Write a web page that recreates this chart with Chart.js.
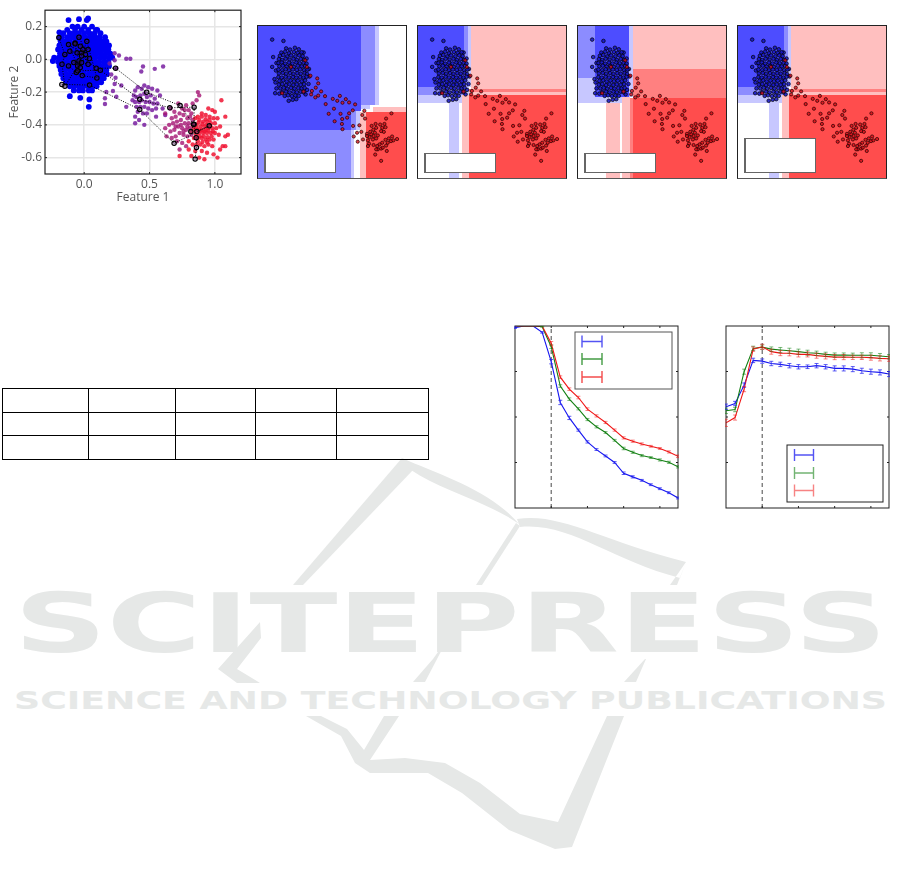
<!DOCTYPE html>
<html>
<head>
<meta charset="UTF-8">
<title>Feature scatter, decision regions and error curves</title>
<script src="https://cdn.jsdelivr.net/npm/chart.js@4/dist/chart.umd.min.js"></script>
<style>
  html, body { margin: 0; padding: 0; background: #fff; }
  #page { position: relative; width: 901px; height: 881px; overflow: hidden; }
  #page canvas { position: absolute; filter: blur(0.35px); }
  #watermark { position: absolute; left: 0; top: 0; }
  .panel { position: absolute; width: 148px; height: 152px; border: 1px solid #222; border-bottom-color: #555; }
  .panel canvas { left: 0; top: 0; filter: blur(0.3px); }
  .tag { position: absolute; background: #fff; border: 1px solid #666; border-left-width: 2px; box-sizing: border-box; }
  #blank { position: absolute; left: 2px; top: 388px; border-collapse: collapse; table-layout: fixed; width: 426px; }
  #blank td { border: 1px solid #000; height: 22.6px; padding: 0; }
</style>
</head>
<body>
<div id="page">
  <svg id="watermark" width="901" height="881">
    <g fill="#e6e8e7">
      <path d="M402,458 L293,585 L303,585 L413,470 Z"/>
      <path d="M402,458 C440,475 490,490 519,524 C490,503 440,490 411,470 Z"/>
      <path d="M517,519 C560,512 600,540 686,562 L670,585 L677,585 L686,562 L680,578 C610,560 570,522 520,527 Z"/>
      <path d="M516,523 L476,585 L482,585 L520,526 Z"/>
      <path d="M260,622 L218,669 L237,683 L260,683 L237,669 L261,638 Z"/>
      <path d="M433,659 L413,682 L425,682 L448,638 Z"/>
      <path d="M645,659 L624,682 L636,682 L646,659 Z"/>
      <path d="M306,716 L341,736 L355,763 L370,773 L428,773 L462,793 L509,830 L555,849 L572,847 L624,716 L607,716 L558,822 L520,814 L480,783 L445,763 L405,758 L370,760 L399,716 L384,716 L364,750 L347,729 L321,716 Z"/>
      <text x="14" y="652" font-family="DejaVu Sans" font-weight="bold" font-size="82" textLength="873" lengthAdjust="spacingAndGlyphs">SCITEPRESS</text>
      <text x="14" y="709" font-family="DejaVu Sans" font-weight="bold" font-size="25" textLength="873" lengthAdjust="spacingAndGlyphs">SCIENCE AND TECHNOLOGY PUBLICATIONS</text>
    </g>
  </svg>

  <canvas id="scatterChart" width="250" height="205" style="left:0;top:0"></canvas>

  <div class="panel" style="left:257px;top:25px"><canvas id="panelOne" width="148" height="152"></canvas><div class="tag" style="left:6px;top:127px;width:72px;height:20px"></div></div>
  <div class="panel" style="left:417px;top:25px"><canvas id="panelTwo" width="148" height="152"></canvas><div class="tag" style="left:6px;top:127px;width:72px;height:20px"></div></div>
  <div class="panel" style="left:577px;top:25px"><canvas id="panelThree" width="148" height="152"></canvas><div class="tag" style="left:6px;top:127px;width:72px;height:20px"></div></div>
  <div class="panel" style="left:737px;top:25px"><canvas id="panelFour" width="148" height="152"></canvas><div class="tag" style="left:6px;top:112px;width:72px;height:35px"></div></div>

  <table id="blank">
    <colgroup><col style="width:86px"><col style="width:87px"><col style="width:80px"><col style="width:81px"><col style="width:92px"></colgroup>
    <tr><td></td><td></td><td></td><td></td><td></td></tr>
    <tr><td></td><td></td><td></td><td></td><td></td></tr>
    <tr><td></td><td></td><td></td><td></td><td></td></tr>
  </table>

  <canvas id="curveLeft" width="165" height="184" style="left:514px;top:325px"></canvas>
  <canvas id="curveRight" width="165" height="184" style="left:725px;top:325px"></canvas>
</div>

<script>
// ---- scatter, first chart ----
var featureOneTicks = [0, 0.5, 1];
var featureTwoTicks = [-0.6, -0.4, -0.2, 0, 0.2];

// blue cloud read row by row
var blueRowY = [0.2, 0.18, 0.16, 0.135, 0.11, 0.085, 0.06, 0.035, 0.01, -0.015, -0.04, -0.065, -0.09, -0.115, -0.14, -0.165, -0.19];
var blueRowX = [
  [-0.09, -0.05, 0, 0.06],
  [-0.13, -0.07, -0.02, 0.03, 0.09],
  [-0.16, -0.11, -0.075, -0.04, 0, 0.04, 0.08, 0.125],
  [-0.17, -0.13, -0.095, -0.06, -0.025, 0.01, 0.05, 0.085, 0.12, 0.16],
  [-0.18, -0.145, -0.11, -0.07, -0.035, 0, 0.035, 0.07, 0.105, 0.14, 0.17],
  [-0.19, -0.155, -0.12, -0.085, -0.05, -0.015, 0.02, 0.055, 0.09, 0.125, 0.16, 0.19],
  [-0.2, -0.165, -0.13, -0.095, -0.06, -0.025, 0.01, 0.045, 0.08, 0.115, 0.15, 0.185],
  [-0.185, -0.15, -0.115, -0.08, -0.045, -0.01, 0.025, 0.06, 0.095, 0.13, 0.165, 0.2],
  [-0.23, -0.195, -0.16, -0.125, -0.09, -0.055, -0.02, 0.015, 0.05, 0.085, 0.12, 0.155, 0.19, 0.215],
  [-0.2, -0.165, -0.13, -0.095, -0.06, -0.025, 0.01, 0.045, 0.08, 0.115, 0.15, 0.185],
  [-0.19, -0.155, -0.12, -0.085, -0.05, -0.015, 0.02, 0.055, 0.09, 0.125, 0.16, 0.19],
  [-0.18, -0.145, -0.11, -0.075, -0.04, -0.005, 0.03, 0.065, 0.1, 0.135, 0.17],
  [-0.175, -0.14, -0.105, -0.07, -0.035, 0, 0.035, 0.07, 0.105, 0.14, 0.175],
  [-0.16, -0.125, -0.09, -0.055, -0.02, 0.015, 0.05, 0.085, 0.12, 0.15],
  [-0.14, -0.105, -0.07, -0.035, 0, 0.035, 0.07, 0.105, 0.13],
  [-0.11, -0.075, -0.04, -0.005, 0.03, 0.065, 0.095],
  [-0.08, -0.04, -0.01, 0.035, 0.06]
];
var blueStrays = [[-0.24, -0.01], [-0.12, 0.24], [-0.04, 0.245], [0.02, 0.24], [0.03, 0.25], [-0.19, 0.165], [0.1, 0.18], [-0.03, -0.235], [-0.11, -0.225], [0.035, -0.29], [0.04, -0.245], [-0.19, 0.13]];

var purplePoints = [[0.233, 0.037], [0.266, 0.023], [0.322, 0.004], [0.353, 0.004], [0.233, -0.006], [0.194, -0.025], [0.246, -0.054], [0.207, -0.093], [0.233, -0.151], [0.284, -0.16], [0.24, -0.112], [0.169, -0.199], [0.159, -0.238], [0.159, -0.273], [0.22, -0.193], [0.322, -0.29], [0.246, -0.228],
  [0.45, -0.044], [0.437, -0.074], [0.54, -0.058], [0.604, -0.044], [0.39, -0.19], [0.41, -0.17], [0.44, -0.18], [0.46, -0.16], [0.49, -0.17], [0.52, -0.18], [0.56, -0.19], [0.58, -0.22], [0.38, -0.22], [0.4, -0.23], [0.43, -0.22], [0.46, -0.21], [0.48, -0.23], [0.51, -0.22], [0.54, -0.24], [0.37, -0.25], [0.39, -0.26], [0.42, -0.26], [0.44, -0.25], [0.47, -0.26], [0.5, -0.26], [0.53, -0.27], [0.56, -0.27], [0.4, -0.29], [0.43, -0.29], [0.46, -0.29], [0.49, -0.3], [0.52, -0.31], [0.55, -0.3], [0.41, -0.32], [0.45, -0.33], [0.48, -0.33], [0.42, -0.37], [0.39, -0.35], [0.46, -0.4], [0.39, -0.39], [0.6, -0.3], [0.62, -0.34], [0.55, -0.35]];
var magentaPoints = [[0.62, -0.33], [0.66, -0.3], [0.69, -0.32], [0.72, -0.27], [0.75, -0.3], [0.78, -0.28], [0.8, -0.31], [0.67, -0.36], [0.7, -0.35], [0.73, -0.33], [0.76, -0.34], [0.79, -0.36], [0.82, -0.33], [0.65, -0.4], [0.68, -0.39], [0.71, -0.38], [0.74, -0.37], [0.77, -0.39], [0.8, -0.39], [0.83, -0.37], [0.62, -0.42], [0.66, -0.44], [0.69, -0.43], [0.72, -0.41], [0.75, -0.42], [0.78, -0.43], [0.81, -0.42], [0.63, -0.47], [0.67, -0.48], [0.7, -0.47], [0.73, -0.45], [0.76, -0.46], [0.79, -0.47], [0.71, -0.5], [0.75, -0.51], [0.78, -0.53], [0.73, -0.55], [0.83, -0.27], [0.86, -0.25], [0.88, -0.22], [0.87, -0.2],
  [0.77, -0.31], [0.81, -0.35], [0.74, -0.4], [0.79, -0.41], [0.76, -0.44], [0.7, -0.41], [0.82, -0.46]];
var redPoints = [[0.95, -0.3], [0.98, -0.31], [1, -0.32], [1.05, -0.25], [1.08, -0.35], [0.9, -0.33], [0.93, -0.34], [0.96, -0.35], [0.99, -0.36], [1.02, -0.36], [0.85, -0.36], [0.88, -0.37], [0.91, -0.38], [0.94, -0.38], [0.97, -0.39], [1, -0.39], [0.83, -0.4], [0.86, -0.4], [0.89, -0.41], [0.92, -0.41], [0.95, -0.42], [0.98, -0.42], [1.01, -0.42], [1.04, -0.41], [0.82, -0.44], [0.85, -0.44], [0.88, -0.45], [0.91, -0.45], [0.94, -0.45], [0.97, -0.45], [1, -0.45], [1.03, -0.46], [1.1, -0.46], [1.08, -0.47], [0.84, -0.48], [0.87, -0.48], [0.9, -0.48], [0.93, -0.49], [0.96, -0.49], [0.99, -0.49], [0.8, -0.5], [0.83, -0.52], [0.86, -0.52], [0.89, -0.52], [0.92, -0.53], [0.95, -0.52], [0.98, -0.53], [1.06, -0.53], [1.08, -0.53], [1.04, -0.55], [0.8, -0.55], [0.85, -0.56], [0.9, -0.56], [0.94, -0.57], [0.99, -0.58], [0.88, -0.6], [0.92, -0.61], [1.02, -0.6], [0.73, -0.59], [0.82, -0.59], [0.87, -0.35], [0.9, -0.35], [0.84, -0.42], [0.87, -0.43], [0.9, -0.43], [0.93, -0.43],
  [0.875, -0.385], [0.905, -0.395], [0.935, -0.4], [0.965, -0.405], [0.86, -0.42], [0.89, -0.435], [0.92, -0.44], [0.95, -0.435], [0.985, -0.44], [0.855, -0.46], [0.885, -0.47], [0.915, -0.47], [0.945, -0.475], [0.975, -0.47], [0.87, -0.5], [0.905, -0.505], [0.94, -0.505], [0.93, -0.365], [0.96, -0.37]];

// black dotted trajectories
var pathA = [[-0.02, 0.02], [0.092, -0.054], [0.24, -0.054], [0.478, -0.201], [0.734, -0.282], [0.836, -0.397], [0.857, -0.478], [0.859, -0.538], [0.849, -0.609]];
var pathB = [[-0.05, -0.07], [0.123, -0.066], [0.425, -0.244], [0.655, -0.296], [0.841, -0.292], [0.841, -0.397], [0.816, -0.441]];
var pathC = [[-0.171, -0.153], [0.041, -0.157], [0.425, -0.306], [0.688, -0.513], [0.957, -0.406], [0.862, -0.441]];
var pathD = [[-0.194, 0.133], [-0.148, 0.03], [-0.17, -0.03], [-0.148, -0.164], [-0.05, -0.04], [0.02, 0.11], [0.097, -0.114], [-0.015, -0.099], [-0.12, 0.09], [-0.02, 0.04], [0.03, 0.06], [-0.07, 0.1], [-0.03, -0.05], [-0.08, -0.02], [0.04, 0.005],
  [-0.04, 0.135], [-0.07, 0.095], [-0.11, 0.05], [-0.055, 0.04], [-0.01, 0.06], [0.01, 0.03], [-0.04, -0.01], [-0.12, -0.04], [-0.06, -0.08], [-0.02, -0.02], [0.03, -0.03], [-0.03, 0.08]];

// ---- decision panels ----
// cell = [x0, x1, y0, y1, level], level from -1 (blue) to 1 (red)
var panelOneCells = [
  [-0.35, 0.612, -0.38, 0.318, -0.7],
  [0.612, 0.707, -0.25, 0.318, -0.7],
  [0.707, 0.85, -0.21, 0.318, -0.45],
  [0.85, 0.901, -0.21, 0.318, -0.22],
  [0.707, 0.8, -0.235, -0.21, -0.22],
  [-0.35, 0.612, -0.7, -0.38, -0.45],
  [0.612, 0.66, -0.38, -0.25, -0.45],
  [0.66, 0.697, -0.38, -0.25, -0.22],
  [0.612, 0.636, -0.7, -0.38, -0.22],
  [0.697, 0.759, -0.7, -0.258, 0.25],
  [0.759, 1.174, -0.7, -0.258, 0.7],
  [0.83, 1.174, -0.258, -0.225, 0.25]
];
var panelTwoCells = [
  [-0.35, 0.119, -0.088, 0.318, -0.7],
  [0.119, 0.17, -0.088, 0.318, -0.45],
  [0.17, 0.194, -0.088, 0.318, -0.22],
  [-0.35, 0.119, -0.143, -0.088, -0.45],
  [-0.35, 0.177, -0.196, -0.143, -0.22],
  [0.119, 0.177, -0.143, -0.088, -0.22],
  [-0.027, 0.075, -0.7, -0.196, -0.22],
  [0.099, 0.177, -0.7, -0.143, 0.25],
  [0.177, 1.174, -0.7, -0.143, 0.7],
  [0.194, 1.174, -0.104, 0.318, 0.25],
  [0.177, 1.174, -0.125, -0.104, 0.5],
  [0.177, 1.174, -0.143, -0.125, 0.25]
];
var panelThreeCells = [
  [-0.35, -0.17, -0.03, 0.318, -0.45],
  [-0.17, 0.18, -0.16, 0.318, -0.7],
  [-0.35, -0.17, -0.196, -0.03, -0.22],
  [-0.17, 0.187, -0.196, -0.16, -0.22],
  [0.18, 0.214, -0.16, 0.318, -0.22],
  [-0.058, 0.085, -0.7, -0.196, 0.25],
  [0.102, 0.187, -0.7, -0.16, 0.25],
  [0.187, 0.214, -0.7, -0.161, 0.5],
  [0.214, 1.174, -0.7, -0.161, 0.7],
  [0.214, 1.174, 0.029, 0.318, 0.25],
  [0.214, 1.174, -0.161, 0.029, 0.5]
];
var panelFourCells = panelTwoCells;

var panelRed = [[0.19, -0.015], [0.26, -0.033], [0.27, -0.066], [0.245, -0.095], [0.3, -0.12], [0.27, -0.148], [0.24, -0.16], [0.197, -0.14], [0.205, -0.117], [0.34, -0.152], [0.42, -0.17], [0.466, -0.183], [0.493, -0.15], [0.554, -0.172], [0.52, -0.196], [0.588, -0.194], [0.65, -0.207], [0.347, -0.205], [0.432, -0.236], [0.378, -0.27], [0.5, -0.27], [0.626, -0.247], [0.588, -0.267], [0.745, -0.25], [0.439, -0.32], [0.517, -0.305], [0.568, -0.296], [0.514, -0.338], [0.52, -0.373], [0.629, -0.351], [0.694, -0.347], [0.724, -0.278], [0.752, -0.302], [1.024, -0.267], [0.969, -0.302],
  [0.861, -0.338], [0.82, -0.351], [0.772, -0.404], [0.837, -0.377], [0.867, -0.364], [0.806, -0.391], [0.854, -0.397], [0.884, -0.415], [0.816, -0.408], [0.84, -0.419], [0.799, -0.426], [0.867, -0.435], [0.908, -0.342], [0.952, -0.338], [0.929, -0.364], [0.963, -0.36], [0.918, -0.386], [0.946, -0.391], [1.031, -0.422], [0.997, -0.435], [0.963, -0.444], [1.02, -0.453], [0.986, -0.464], [1.082, -0.439], [1.044, -0.448], [0.929, -0.464], [0.901, -0.475], [0.878, -0.486], [0.84, -0.479], [0.782, -0.448], [0.731, -0.442], [0.67, -0.397], [0.714, -0.391], [0.636, -0.422], [0.677, -0.457], [0.793, -0.47], [0.969, -0.483], [0.918, -0.503], [0.935, -0.497], [0.976, -0.519], [0.857, -0.543], [0.918, -0.585], [0.782, -0.486], [0.884, -0.508], [0.867, -0.508], [0.833, -0.442], [0.772, -0.419],
  [0.153, 0.044], [-0.01, 0.044], [0.136, 0.088], [-0.102, -0.132], [0.119, -0.121]];
var panelBlue = [[-0.204, 0.227], [-0.088, 0.218], [-0.194, 0.11], [-0.204, 0.044], [-0.18, -0.038], [-0.173, -0.132], [-0.034, -0.183], [0.007, -0.176], [0.044, -0.172],
  [-0.165, 0.02], [-0.17, -0.06], [-0.16, -0.1], [0.175, 0.03], [0.18, -0.02], [0.17, -0.07], [0.155, -0.11], [0.14, -0.14], [-0.13, -0.135], [-0.16, 0.07], [0.15, 0.1], [0.12, 0.14],
  [-0.06, 0.168], [-0.02, 0.16], [0.03, 0.172], [0.07, 0.162],
  [-0.11, 0.14], [-0.07, 0.146], [-0.03, 0.135], [0.02, 0.144], [0.06, 0.138], [0.1, 0.142],
  [-0.125, 0.118], [-0.09, 0.124], [-0.05, 0.114], [-0.01, 0.121], [0.035, 0.115], [0.075, 0.122], [0.11, 0.116],
  [-0.135, 0.096], [-0.1, 0.09], [-0.065, 0.099], [-0.025, 0.092], [0.015, 0.098], [0.05, 0.09], [0.09, 0.097], [0.125, 0.091],
  [-0.14, 0.07], [-0.105, 0.074], [-0.07, 0.066], [-0.03, 0.073], [0.005, 0.067], [0.045, 0.074], [0.08, 0.068], [0.12, 0.072], [0.15, 0.066],
  [-0.13, 0.048], [-0.095, 0.052], [-0.055, 0.046], [-0.02, 0.05], [0.02, 0.044], [0.06, 0.052], [0.1, 0.047], [0.135, 0.05],
  [-0.14, 0.026], [-0.1, 0.022], [-0.065, 0.028], [-0.03, 0.021], [0.01, 0.027], [0.05, 0.023], [0.085, 0.028], [0.125, 0.022], [0.16, 0.026],
  [-0.135, 0], [-0.095, 0.004], [-0.06, -0.003], [-0.02, 0.003], [0.015, -0.004], [0.055, 0.002], [0.09, -0.002], [0.13, 0.004], [0.155, -0.003],
  [-0.14, -0.024], [-0.105, -0.028], [-0.065, -0.022], [-0.03, -0.027], [0.01, -0.023], [0.045, -0.028], [0.085, -0.024], [0.12, -0.027], [0.15, -0.022],
  [-0.13, -0.05], [-0.09, -0.046], [-0.055, -0.053], [-0.015, -0.047], [0.02, -0.052], [0.06, -0.048], [0.1, -0.052], [0.135, -0.046],
  [-0.135, -0.075], [-0.1, -0.071], [-0.06, -0.078], [-0.025, -0.072], [0.015, -0.077], [0.05, -0.073], [0.09, -0.076], [0.125, -0.072],
  [-0.12, -0.1], [-0.085, -0.096], [-0.05, -0.103], [-0.01, -0.097], [0.025, -0.102], [0.065, -0.098], [0.1, -0.101], [0.13, -0.097],
  [-0.1, -0.125], [-0.06, -0.121], [-0.025, -0.127], [0.015, -0.122], [0.05, -0.126], [0.09, -0.122], [0.12, -0.126],
  [-0.075, -0.15], [-0.04, -0.146], [0, -0.152], [0.035, -0.147], [0.07, -0.15]];

// ---- error curves ----
var trainSteps = [0, 1, 2, 3, 4, 5, 6, 7, 8, 9, 10, 11, 12, 13, 14, 15, 16, 17, 18];
var stepTicks = [4, 8, 12, 16];
var levelTicks = [0.25, 0.5, 0.75];
var splitStep = 4;

var leftBlue = [0.991, 1, 1, 0.965, 0.804, 0.58, 0.495, 0.428, 0.363, 0.321, 0.286, 0.25, 0.191, 0.171, 0.152, 0.128, 0.106, 0.084, 0.055];
var leftGreen = [1, 1, 1, 0.996, 0.886, 0.67, 0.598, 0.545, 0.486, 0.446, 0.415, 0.372, 0.327, 0.306, 0.288, 0.277, 0.264, 0.251, 0.226];
var leftRed = [1, 1, 1, 1, 0.905, 0.719, 0.653, 0.607, 0.543, 0.506, 0.47, 0.428, 0.385, 0.367, 0.352, 0.339, 0.327, 0.308, 0.284];
var leftBlueErr = [0.004, 0, 0, 0.004, 0.012, 0.012, 0.009, 0.006, 0.006, 0.005, 0.005, 0.005, 0.007, 0.006, 0.005, 0.005, 0.005, 0.005, 0.005];
var leftGreenErr = [0, 0, 0, 0.002, 0.01, 0.007, 0.007, 0.006, 0.006, 0.006, 0.005, 0.005, 0.007, 0.006, 0.006, 0.005, 0.006, 0.006, 0.006];
var leftRedErr = [0, 0, 0, 0, 0.01, 0.007, 0.007, 0.007, 0.007, 0.006, 0.006, 0.006, 0.006, 0.006, 0.006, 0.005, 0.005, 0.006, 0.007];

var rightBlue = [0.556, 0.574, 0.675, 0.811, 0.807, 0.794, 0.789, 0.782, 0.776, 0.776, 0.782, 0.776, 0.767, 0.767, 0.763, 0.754, 0.749, 0.745, 0.736];
var rightGreen = [0.534, 0.541, 0.749, 0.877, 0.884, 0.873, 0.868, 0.864, 0.859, 0.853, 0.85, 0.844, 0.84, 0.84, 0.839, 0.839, 0.839, 0.835, 0.831];
var rightRed = [0.468, 0.497, 0.653, 0.873, 0.886, 0.859, 0.851, 0.85, 0.844, 0.844, 0.837, 0.833, 0.829, 0.829, 0.828, 0.828, 0.826, 0.822, 0.82];
var rightBlueErr = [0.015, 0.012, 0.012, 0.012, 0.012, 0.012, 0.012, 0.012, 0.012, 0.01, 0.012, 0.012, 0.014, 0.014, 0.014, 0.014, 0.014, 0.014, 0.014];
var rightGreenErr = [0.015, 0.012, 0.014, 0.012, 0.012, 0.012, 0.014, 0.014, 0.014, 0.014, 0.012, 0.012, 0.012, 0.012, 0.012, 0.014, 0.014, 0.014, 0.012];
var rightRedErr = [0.02, 0.014, 0.014, 0.012, 0.014, 0.014, 0.014, 0.014, 0.014, 0.014, 0.014, 0.014, 0.014, 0.014, 0.012, 0.012, 0.014, 0.014, 0.014];

function toXY(pairs) {
  return pairs.map(function (p) { return { x: p[0], y: p[1] }; });
}

function levelColor(level) {
  var c = Math.round(255 * (1 - Math.abs(level)));
  return level < 0 ? "rgb(" + c + "," + c + ",255)" : "rgb(255," + c + "," + c + ")";
}

// filled rectangles of the decision surface
var cellPlugin = {
  id: "cells",
  beforeDatasetsDraw: function (chart, args, opts) {
    var ctx = chart.ctx, xs = chart.scales.x, ys = chart.scales.y;
    (opts.list || []).forEach(function (c) {
      var x0 = Math.round(xs.getPixelForValue(c[0])), x1 = Math.round(xs.getPixelForValue(c[1]));
      var y0 = Math.round(ys.getPixelForValue(c[3])), y1 = Math.round(ys.getPixelForValue(c[2]));
      ctx.fillStyle = levelColor(c[4]);
      ctx.fillRect(x0, y0, x1 - x0, y1 - y0);
    });
  }
};

// box round the plot with short ticks pointing inward
var framePlugin = {
  id: "frame",
  afterDatasetsDraw: function (chart, args, opts) {
    if (!opts.color) return;
    var ctx = chart.ctx, a = chart.chartArea, xs = chart.scales.x, ys = chart.scales.y, len = opts.len || 2;
    ctx.save();
    ctx.strokeStyle = opts.color;
    ctx.lineWidth = opts.width || 1;
    ctx.strokeRect(a.left, a.top, a.right - a.left, a.bottom - a.top);
    ctx.lineWidth = 1;
    ctx.beginPath();
    (opts.xTicks || []).forEach(function (v) {
      var p = xs.getPixelForValue(v);
      ctx.moveTo(p, a.top); ctx.lineTo(p, a.top + len);
      ctx.moveTo(p, a.bottom); ctx.lineTo(p, a.bottom - len);
    });
    (opts.yTicks || []).forEach(function (v) {
      var p = ys.getPixelForValue(v);
      ctx.moveTo(a.left, p); ctx.lineTo(a.left + len, p);
      ctx.moveTo(a.right, p); ctx.lineTo(a.right - len, p);
    });
    ctx.stroke();
    ctx.restore();
  }
};

// vertical error bars with caps, plus the legend box (its labels are blank in the source)
var errorPlugin = {
  id: "errorBars",
  afterDatasetsDraw: function (chart, args, opts) {
    if (!opts.box) return;
    var ctx = chart.ctx, xs = chart.scales.x, ys = chart.scales.y;
    ctx.save();
    chart.data.datasets.forEach(function (ds) {
      if (!ds.errors) return;
      ctx.strokeStyle = ds.capColor;
      ctx.lineWidth = 1;
      ctx.beginPath();
      ds.data.forEach(function (pt, i) {
        if (!ds.errors[i]) return;
        var px = xs.getPixelForValue(pt.x);
        var hi = ys.getPixelForValue(pt.y + ds.errors[i]), lo = ys.getPixelForValue(pt.y - ds.errors[i]);
        ctx.moveTo(px, hi); ctx.lineTo(px, lo);
        ctx.moveTo(px - 2, hi); ctx.lineTo(px + 2, hi);
        ctx.moveTo(px - 2, lo); ctx.lineTo(px + 2, lo);
      });
      ctx.stroke();
    });
    var b = opts.box;
    ctx.fillStyle = "#fff";
    ctx.fillRect(b[0], b[1], b[2] - b[0], b[3] - b[1]);
    ctx.strokeStyle = opts.boxColor;
    ctx.lineWidth = 1;
    ctx.strokeRect(b[0], b[1], b[2] - b[0], b[3] - b[1]);
    opts.rows.forEach(function (r) {
      ctx.strokeStyle = r.color;
      ctx.lineWidth = 1.4;
      ctx.beginPath();
      ctx.moveTo(opts.glyph[0], r.y - 6); ctx.lineTo(opts.glyph[0], r.y + 6);
      ctx.moveTo(opts.glyph[1], r.y - 6); ctx.lineTo(opts.glyph[1], r.y + 6);
      ctx.moveTo(opts.glyph[0], r.y); ctx.lineTo(opts.glyph[1], r.y);
      ctx.stroke();
    });
    ctx.restore();
  }
};

Chart.register(cellPlugin, framePlugin, errorPlugin);
Chart.defaults.animation = false;
Chart.defaults.responsive = false;
Chart.defaults.layout.autoPadding = false;
Chart.defaults.plugins.legend.display = false;
Chart.defaults.plugins.tooltip.enabled = false;

// ---- first chart ----
var bluePoints = [];
blueRowY.forEach(function (y, i) {
  blueRowX[i].forEach(function (x) { bluePoints.push([x, y]); });
});
bluePoints = bluePoints.concat(blueStrays);

function cloud(pairs, color, order, radius) {
  return { data: toXY(pairs), backgroundColor: color, borderWidth: 0, pointRadius: radius, order: order };
}
function trail(pairs) {
  return {
    data: toXY(pairs), showLine: true, borderColor: "#000", borderWidth: 1, borderDash: [1, 1.5],
    pointRadius: 2.2, pointBorderColor: "#000", pointBorderWidth: 1.1, pointBackgroundColor: "rgba(70,30,90,0.4)", order: 0
  };
}
function tickText() {
  return { color: "#555", font: { family: "Open Sans", size: 12 }, padding: 3, maxRotation: 0, autoSkip: false, callback: function (v) { return Number(v).toFixed(1); } };
}

new Chart(document.getElementById("scatterChart"), {
  type: "scatter",
  data: {
    datasets: [
      trail(pathA), trail(pathB), trail(pathC), trail(pathD),
      cloud(redPoints, "rgba(240,20,50,0.85)", 1, 2.2),
      cloud(magentaPoints, "rgba(165,20,115,0.8)", 2, 2.2),
      cloud(purplePoints, "rgba(120,30,160,0.85)", 3, 2.2),
      cloud(bluePoints, "#0000f5", 4, 2.9)
    ]
  },
  options: {
    layout: { padding: { left: 0, right: 9, top: 3, bottom: 0 } },
    plugins: { frame: { color: "#222", width: 1.2, xTicks: featureOneTicks, yTicks: featureTwoTicks, len: 2 } },
    scales: {
      x: {
        min: -0.3, max: 1.2,
        afterBuildTicks: function (s) { s.ticks = featureOneTicks.map(function (v) { return { value: v }; }); },
        afterFit: function (s) { s.height = 31; },
        grid: { color: "#e6e6e6", lineWidth: 1.5, drawTicks: false },
        border: { display: false },
        ticks: tickText(),
        title: { display: true, text: "Feature 1", color: "#555", font: { family: "Open Sans", size: 12 }, padding: 0 }
      },
      y: {
        min: -0.7, max: 0.3,
        afterBuildTicks: function (s) { s.ticks = featureTwoTicks.map(function (v) { return { value: v }; }); },
        afterFit: function (s) { s.width = 45; },
        grid: { color: "#e6e6e6", lineWidth: 1.5, drawTicks: false },
        border: { display: false },
        ticks: tickText(),
        title: { display: true, text: "Feature 2", color: "#555", font: { family: "Open Sans", size: 12 }, padding: { top: 7, bottom: 0 } }
      }
    }
  }
});

// ---- decision panels ----
function panel(id, cells) {
  new Chart(document.getElementById(id), {
    type: "scatter",
    data: {
      datasets: [
        { data: toXY(panelRed), backgroundColor: "rgba(215,15,25,0.8)", borderColor: "#200", borderWidth: 0.7, pointRadius: 1.6, order: 1 },
        { data: toXY(panelBlue), backgroundColor: "rgba(20,20,190,0.85)", borderColor: "#000", borderWidth: 0.7, pointRadius: 1.8, order: 2 }
      ]
    },
    options: {
      plugins: { cells: { list: cells } },
      scales: {
        x: { display: false, min: -0.35, max: 1.174 },
        y: { display: false, min: -0.7, max: 0.318 }
      }
    }
  });
}
panel("panelOne", panelOneCells);
panel("panelTwo", panelTwoCells);
panel("panelThree", panelThreeCells);
panel("panelFour", panelFourCells);

// ---- error curves ----
function curve(values, errors, color, capColor, order) {
  return {
    data: values.map(function (v, i) { return { x: trainSteps[i], y: v }; }),
    errors: errors, capColor: capColor, showLine: true, borderColor: color, borderWidth: 1.1, pointRadius: 0, order: order
  };
}
function splitLine() {
  return { data: [{ x: splitStep, y: 0 }, { x: splitStep, y: 1 }], showLine: true, borderColor: "#666", borderWidth: 1.2, borderDash: [4, 3], pointRadius: 0, order: 9 };
}
function curveChart(id, blue, blueErr, green, greenErr, red, redErr, legend) {
  new Chart(document.getElementById(id), {
    type: "scatter",
    data: {
      datasets: [
        curve(blue, blueErr, "#1515f0", "rgba(40,40,240,0.75)", 3),
        curve(green, greenErr, "#128012", "rgba(20,130,20,0.55)", 2),
        curve(red, redErr, "#f01515", "rgba(240,30,30,0.55)", 1),
        splitLine()
      ]
    },
    options: {
      layout: { padding: 1 },
      plugins: {
        frame: { color: "#222", width: 1, xTicks: stepTicks, yTicks: levelTicks, len: 2 },
        errorBars: legend
      },
      scales: {
        x: { display: false, min: 0, max: 18 },
        y: { display: false, min: 0, max: 1 }
      }
    }
  });
}
curveChart("curveLeft", leftBlue, leftBlueErr, leftGreen, leftGreenErr, leftRed, leftRedErr, {
  box: [61, 7, 158, 64], boxColor: "#555", glyph: [68, 88],
  rows: [{ y: 16.5, color: "rgba(40,40,240,0.8)" }, { y: 34, color: "rgba(20,130,20,0.8)" }, { y: 52, color: "rgba(240,30,30,0.8)" }]
});
curveChart("curveRight", rightBlue, rightBlueErr, rightGreen, rightGreenErr, rightRed, rightRedErr, {
  box: [62, 120, 158, 177], boxColor: "#222", glyph: [69.5, 88.5],
  rows: [{ y: 130, color: "rgba(40,40,240,0.8)" }, { y: 148, color: "rgba(20,130,20,0.6)" }, { y: 165.5, color: "rgba(240,30,30,0.55)" }]
});
</script>
</body>
</html>
